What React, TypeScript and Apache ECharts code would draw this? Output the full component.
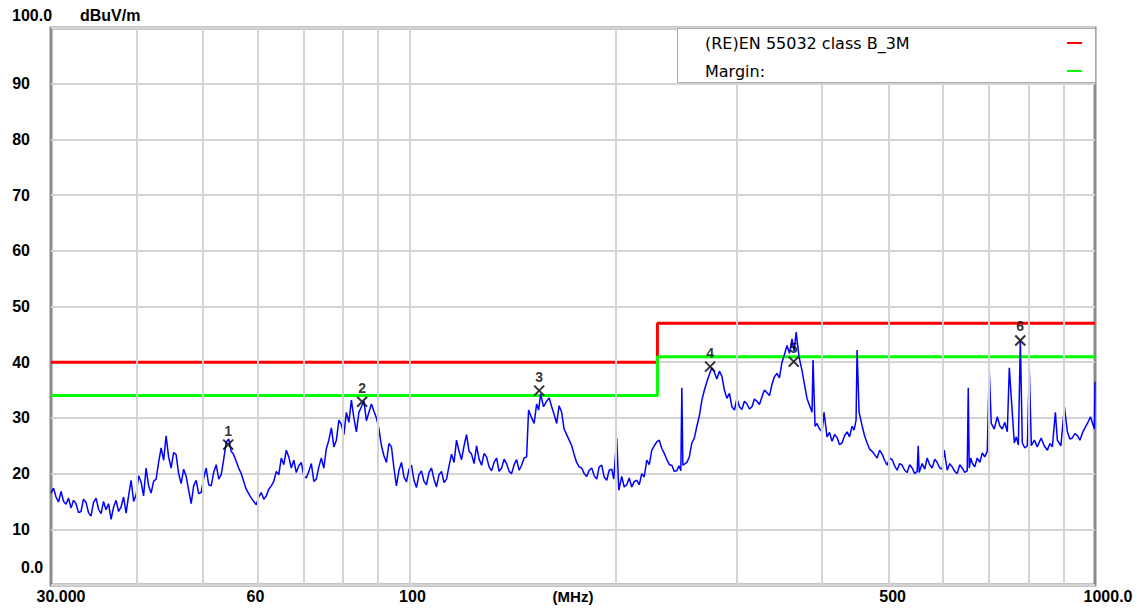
import React, { useEffect, useRef } from 'react';
import * as echarts from 'echarts';

// ---- data (frequency in MHz, level in dBuV/m) ----
const traceData: [number, number][] = [
  [30.0, 16.5], [30.25, 17.4], [30.51, 15.8], [30.77, 14.9], [31.03, 16.8], [31.3, 15.0], [31.56, 14.5], [31.82, 15.6],
  [32.09, 13.8], [32.36, 15.2], [32.63, 14.6], [32.9, 13.0], [33.18, 13.2], [33.46, 15.4], [33.75, 14.8], [34.03, 13.0],
  [34.32, 12.4], [34.6, 14.8], [34.9, 15.6], [35.2, 13.6], [35.49, 12.8], [35.79, 15.0], [36.09, 13.5], [36.4, 14.6],
  [36.71, 11.8], [37.02, 14.0], [37.33, 15.2], [37.64, 13.2], [37.96, 14.0], [38.28, 15.8], [38.61, 12.9], [38.93, 16.0],
  [39.26, 18.8], [39.6, 15.0], [39.93, 16.2], [40.26, 19.6], [40.6, 18.5], [40.94, 16.0], [41.29, 21.0], [41.64, 17.8],
  [41.99, 16.5], [42.34, 18.6], [42.7, 19.0], [43.06, 22.0], [43.43, 24.6], [43.8, 22.4], [44.16, 26.8], [44.53, 23.0],
  [44.91, 21.0], [45.29, 23.8], [45.67, 23.4], [46.06, 20.0], [46.45, 18.2], [46.84, 20.8], [47.24, 19.5], [47.64, 17.0],
  [48.04, 14.6], [48.44, 17.8], [48.85, 18.8], [49.26, 16.4], [49.68, 16.6], [50.1, 19.2], [50.52, 21.0], [50.95, 18.0],
  [51.38, 17.8], [51.81, 20.2], [52.25, 21.6], [52.7, 19.0], [53.14, 19.8], [53.59, 22.6], [54.04, 25.6], [54.5, 26.2],
  [54.95, 24.0], [55.41, 23.4], [55.88, 22.2], [56.35, 21.0], [56.83, 20.0], [57.31, 18.6], [57.79, 17.2], [58.28, 16.4],
  [58.78, 15.6], [59.28, 15.0], [59.78, 14.4], [60.28, 15.8], [60.79, 16.6], [61.3, 15.4], [61.82, 16.0], [62.34, 17.2],
  [62.87, 17.8], [63.4, 18.6], [63.94, 20.4], [64.48, 19.8], [65.02, 22.8], [65.57, 21.6], [66.12, 24.2], [66.68, 23.0],
  [67.24, 21.0], [67.81, 22.4], [68.38, 20.2], [68.96, 21.4], [69.54, 22.0], [70.13, 19.6], [70.72, 19.2], [71.32, 20.4],
  [71.92, 21.8], [72.53, 18.6], [73.14, 19.0], [73.76, 21.2], [74.38, 22.8], [75.0, 21.0], [75.64, 24.5], [76.28, 26.0],
  [76.93, 28.2], [77.58, 24.8], [78.23, 26.0], [78.9, 29.6], [79.56, 28.8], [80.23, 27.0], [80.91, 31.0], [81.59, 29.2],
  [82.28, 33.2], [82.97, 30.0], [83.67, 27.5], [84.38, 31.0], [85.1, 32.0], [85.82, 33.0], [86.54, 29.5], [87.27, 31.0],
  [88.01, 32.5], [88.75, 31.2], [89.5, 30.0], [90.26, 28.0], [91.02, 25.0], [91.79, 23.2], [92.56, 22.0], [93.34, 25.4],
  [94.13, 24.8], [94.92, 21.0], [95.72, 17.8], [96.53, 20.6], [97.35, 22.0], [98.17, 19.4], [99.0, 18.5], [99.84, 20.8],
  [100.68, 21.5], [101.53, 18.8], [102.38, 17.5], [103.25, 19.8], [104.12, 20.5], [105.0, 18.6], [105.88, 18.0], [106.78, 20.2],
  [107.68, 21.0], [108.59, 19.0], [109.51, 17.6], [110.44, 19.8], [111.37, 20.4], [112.31, 18.4], [113.26, 19.0], [114.22, 21.4],
  [115.18, 23.5], [116.15, 22.0], [117.13, 26.0], [118.12, 24.0], [119.12, 22.5], [120.13, 25.0], [121.14, 27.0], [122.16, 24.0],
  [123.19, 23.5], [124.23, 21.8], [125.28, 25.0], [126.34, 22.6], [127.41, 21.5], [128.49, 23.6], [129.57, 23.0], [130.66, 21.2],
  [131.76, 20.5], [132.87, 22.0], [133.99, 22.8], [135.13, 20.4], [136.27, 21.0], [137.42, 22.6], [138.58, 21.8], [139.75, 20.4],
  [140.93, 20.0], [142.12, 21.6], [143.32, 22.5], [144.53, 20.6], [145.75, 21.5], [146.98, 22.8], [148.22, 23.0], [149.2, 31.4],
  [150.74, 30.0], [152.0, 29.0], [153.29, 32.5], [154.3, 31.4], [155.37, 34.3], [156.9, 32.0], [158.53, 33.0], [159.9, 33.6],
  [161.23, 32.0], [162.6, 30.6], [163.96, 29.0], [165.3, 32.2], [166.74, 31.0], [168.1, 28.0], [169.57, 27.0], [171.0, 26.0],
  [172.44, 25.0], [173.9, 23.4], [175.36, 22.0], [176.8, 21.2], [178.34, 21.0], [179.8, 20.0], [181.36, 19.5], [182.9, 20.6],
  [184.44, 21.0], [186.0, 19.6], [187.57, 19.0], [189.1, 21.2], [190.75, 21.5], [192.3, 19.4], [193.98, 18.8], [195.6, 20.6],
  [197.28, 20.8], [198.6, 19.0], [200.62, 26.4], [202.0, 17.0], [204.02, 19.5], [205.7, 17.6], [207.47, 18.0], [209.2, 19.2],
  [211.0, 17.6], [212.8, 18.6], [214.57, 18.8], [216.4, 18.0], [218.22, 20.0], [220.0, 19.4], [221.92, 22.4], [223.8, 21.6],
  [225.69, 24.2], [227.6, 25.0], [229.51, 25.7], [231.4, 26.0], [233.41, 24.5], [235.4, 23.6], [237.36, 22.5], [239.4, 21.6],
  [241.39, 21.5], [243.4, 20.4], [245.48, 20.5], [247.2, 21.4], [248.8, 20.5], [249.65, 35.4], [250.5, 21.5], [253.88, 22.0],
  [256.0, 23.0], [258.19, 25.5], [260.4, 26.4], [262.56, 28.5], [264.8, 30.4], [267.02, 33.2], [269.3, 35.0], [271.54, 36.5],
  [273.8, 37.8], [276.15, 39.0], [278.5, 38.2], [280.83, 37.0], [283.2, 38.4], [285.6, 37.5], [288.0, 35.0], [290.44, 33.5],
  [292.9, 34.4], [295.37, 32.0], [297.9, 31.4], [300.37, 33.5], [302.9, 32.0], [305.47, 31.5], [308.0, 33.0], [310.64, 32.5],
  [313.3, 31.6], [315.92, 32.0], [318.6, 33.4], [321.27, 33.0], [324.0, 32.4], [326.73, 33.8], [329.5, 35.0], [332.26, 34.5],
  [335.1, 34.0], [337.9, 36.0], [340.7, 37.4], [343.62, 38.0], [346.5, 37.2], [349.46, 40.0], [352.4, 41.4], [355.37, 43.0],
  [358.4, 41.6], [361.42, 44.2], [364.0, 42.0], [366.5, 45.4], [370.0, 41.0], [373.78, 38.5], [380.1, 33.5], [386.56, 31.0],
  [387.9, 40.4], [390.5, 28.5], [393.1, 29.0], [396.4, 28.0], [399.79, 27.5], [402.5, 31.0], [406.56, 26.6], [410.0, 27.4],
  [413.46, 25.8], [417.0, 27.0], [420.46, 26.5], [424.0, 25.2], [427.61, 25.5], [431.2, 26.8], [434.85, 27.5], [438.5, 26.6],
  [442.23, 28.5], [445.2, 27.8], [448.2, 29.6], [449.72, 42.2], [452.8, 31.0], [457.36, 28.6], [461.2, 26.8], [465.1, 25.5],
  [469.0, 24.4], [473.01, 24.0], [477.0, 23.4], [481.02, 22.8], [485.1, 24.2], [489.19, 23.5], [493.3, 22.4], [497.48, 21.5],
  [501.7, 22.8], [505.92, 22.5], [510.2, 21.4], [514.49, 20.6], [518.8, 21.8], [523.23, 21.5], [527.6, 20.6], [532.09, 20.2],
  [536.6, 21.6], [541.13, 21.0], [545.7, 20.0], [550.3, 20.4], [552.2, 25.0], [554.0, 20.2], [559.64, 21.8], [564.4, 20.8],
  [569.12, 22.8], [573.9, 21.6], [578.78, 21.0], [583.7, 22.6], [588.58, 22.0], [593.6, 21.0], [598.58, 20.8], [602.6, 24.2],
  [608.72, 20.6], [613.9, 21.8], [619.06, 21.2], [624.3, 20.4], [629.55, 20.0], [634.9, 21.6], [640.24, 21.0], [645.6, 20.2],
  [651.07, 20.5], [653.3, 35.4], [655.5, 21.0], [658.8, 22.8], [662.14, 21.9], [667.7, 21.2], [673.35, 22.8], [679.0, 22.0],
  [684.79, 23.7], [690.5, 23.0], [696.38, 24.0], [701.0, 38.6], [705.8, 29.0], [713.0, 28.0], [720.21, 30.2], [726.3, 28.6],
  [732.45, 28.0], [738.6, 29.2], [744.85, 27.5], [749.9, 39.0], [755.0, 33.5], [762.6, 25.5], [767.8, 26.6], [773.0, 25.1],
  [778.2, 44.0], [783.42, 25.5], [790.0, 24.6], [796.68, 25.0], [802.0, 38.6], [807.5, 25.0], [815.6, 26.0], [823.93, 24.8],
  [829.2, 25.6], [834.6, 26.4], [843.3, 25.0], [852.12, 24.2], [859.3, 25.4], [866.6, 24.8], [875.4, 31.0], [881.27, 26.0],
  [891.8, 25.0], [902.4, 32.0], [911.42, 27.5], [919.1, 26.2], [926.9, 26.4], [934.7, 27.2], [942.6, 26.8], [950.6, 26.0],
  [958.61, 27.3], [966.7, 28.2], [974.85, 29.0], [984.8, 30.2], [998.0, 28.0], [1000, 36.5],
];

const limitFreq = [30, 230, 230, 1000];
const limitLevel = [40, 40, 47, 47];
const marginLevel = [34, 34, 41, 41];

const markerFreq = [54.4, 85.3, 154.6, 274.5, 363.5, 778.0];
const markerLevel = [25.2, 32.9, 34.9, 39.2, 40.1, 43.9];
const markerIds = ['1', '2', '3', '4', '5', '6'];

const xGridValues = [40, 50, 60, 70, 80, 90, 100, 200, 300, 400, 500, 600, 700, 800, 900];
const xTickValues = [30, 60, 100, 500, 1000];
const xTickLabels = ['30.000', '60', '100', '500', '1000.0'];
const yTickValues = [0, 10, 20, 30, 40, 50, 60, 70, 80, 90, 100];
const yTickLabels = ['0.0', '10', '20', '30', '40', '50', '60', '70', '80', '90', '100.0'];

const legendNames = ['(RE)EN 55032 class B_3M', 'Margin:'];
const xUnit = '(MHz)';
const yUnit = 'dBuV/m';

// ---- layout / style ----
const W = 1144;
const H = 610;
const G = { left: 51, top: 28, right: 49, bottom: 25 };
const xLabelShift = [10, -2, 3, 4, 13];
const AX_FONT = '"Liberation Sans", Arial, sans-serif';

export default function App() {
  const ref = useRef<HTMLDivElement>(null);

  useEffect(() => {
    document.body.style.margin = '0';
    if (!ref.current) return;
    const chart = echarts.init(ref.current, undefined, { renderer: 'svg' });

    const gridLineData: any[] = xGridValues.map((v) => ({ xAxis: v }));
    const tickLabelData: any[] = xTickValues.map((v, i) => ({
      xAxis: v,
      lineStyle: { color: 'rgba(0,0,0,0)', width: 0 },
      label: {
        show: true,
        formatter: xTickLabels[i],
        offset: [xLabelShift[i], 0],
        color: '#000',
      },
    }));

    const plotRight = W - G.right;
    const legendBox = { x: 677, y: G.top, w: plotRight - 677, h: 54 };

    const option: any = {
      animation: false,
      backgroundColor: '#ffffff',
      grid: {
        left: G.left,
        top: G.top,
        right: G.right,
        bottom: G.bottom,
        show: true,
        borderColor: '#8a8a8a',
        borderWidth: 3,
        backgroundColor: 'transparent',
      },
      xAxis: {
        type: 'log',
        logBase: 10,
        min: 30,
        max: 1000,
        axisLine: { show: false },
        axisTick: { show: false },
        axisLabel: { show: false },
        splitLine: { show: false },
        name: xUnit,
        nameLocation: 'middle',
        nameGap: 4,
        nameTextStyle: {
          fontFamily: AX_FONT,
          fontWeight: 'bold',
          fontSize: 15,
          color: '#000',
          verticalAlign: 'top',
        },
      },
      yAxis: {
        type: 'value',
        min: 0,
        max: 100,
        interval: 10,
        axisLine: { show: false },
        axisTick: { show: false },
        splitLine: { show: true, lineStyle: { color: '#d4d4d4', width: 2 } },
        axisLabel: {
          margin: 21,
          fontFamily: AX_FONT,
          fontWeight: 'bold',
          fontSize: 16,
          color: '#000',
          formatter: (v: number) => {
            if (v === 0 || v === 100) return '';
            const i = yTickValues.indexOf(v);
            return i >= 0 ? yTickLabels[i] : '';
          },
        },
      },
      series: [
        {
          name: 'grid',
          type: 'line',
          data: [],
          z: 1,
          silent: true,
          markLine: {
            silent: true,
            symbol: ['none', 'none'],
            animation: false,
            lineStyle: { type: 'solid', color: '#d4d4d4', width: 2 },
            label: {
              show: false,
              position: 'start',
              distance: 3,
              fontFamily: AX_FONT,
              fontWeight: 'bold',
              fontSize: 16,
              color: '#000',
            },
            data: [...gridLineData, ...tickLabelData],
          },
        },
        {
          name: legendNames[0],
          type: 'line',
          z: 3,
          showSymbol: false,
          silent: true,
          data: limitFreq.map((f, i) => [f, limitLevel[i]]),
          lineStyle: { color: '#ff0000', width: 3 },
        },
        {
          name: legendNames[1],
          type: 'line',
          z: 3,
          showSymbol: false,
          silent: true,
          data: limitFreq.map((f, i) => [f, marginLevel[i]]),
          lineStyle: { color: '#00ff00', width: 3 },
        },
        {
          name: 'trace',
          type: 'line',
          z: 4,
          showSymbol: false,
          silent: true,
          data: traceData,
          lineStyle: { color: '#0000ff', width: 1.5 },
        },
        {
          name: 'markers',
          type: 'scatter',
          z: 5,
          silent: true,
          symbol: 'path://M0 0L10 10M10 0L0 10',
          symbolSize: 10,
          itemStyle: { color: 'rgba(0,0,0,0)', borderColor: '#000', borderWidth: 2 },
          data: markerFreq.map((f, i) => [f, markerLevel[i]]),
          label: {
            show: true,
            position: 'top',
            distance: 1,
            fontFamily: AX_FONT,
            fontWeight: 'bold',
            fontSize: 14,
            color: '#000',
            formatter: (p: any) => markerIds[p.dataIndex],
          },
        },
      ],
      graphic: [
        {
          type: 'text',
          x: 12,
          y: 15,
          z: 100,
          style: { text: yTickLabels[yTickLabels.length - 1], font: `bold 16px ${AX_FONT}`, fill: '#000', verticalAlign: 'middle' },
        },
        {
          type: 'text',
          x: 80,
          y: 15,
          z: 100,
          style: { text: yUnit, font: `bold 16px ${AX_FONT}`, fill: '#000', verticalAlign: 'middle' },
        },
        {
          type: 'text',
          x: 21,
          y: 567,
          z: 100,
          style: { text: yTickLabels[0], font: `bold 16px ${AX_FONT}`, fill: '#000', verticalAlign: 'middle' },
        },
        {
          type: 'rect',
          z: 100,
          shape: { x: legendBox.x + 0.5, y: legendBox.y + 0.5, width: legendBox.w, height: legendBox.h },
          style: { fill: '#ffffff', stroke: '#a8a8a8', lineWidth: 1 },
        },
        {
          type: 'text',
          x: 705,
          y: 43,
          z: 101,
          style: { text: legendNames[0], font: '16px "DejaVu Sans", sans-serif', fill: '#000', verticalAlign: 'middle' },
        },
        {
          type: 'text',
          x: 705,
          y: 71,
          z: 101,
          style: { text: legendNames[1], font: '16px "DejaVu Sans", sans-serif', fill: '#000', verticalAlign: 'middle' },
        },
        {
          type: 'line',
          z: 101,
          shape: { x1: 1067, y1: 43, x2: 1082, y2: 43 },
          style: { stroke: '#ff0000', lineWidth: 2 },
        },
        {
          type: 'line',
          z: 101,
          shape: { x1: 1067, y1: 71, x2: 1082, y2: 71 },
          style: { stroke: '#00ff00', lineWidth: 2 },
        },
      ],
    };

    chart.setOption(option);
    return () => chart.dispose();
  }, []);

  return <div ref={ref} style={{ width: W, height: H }} />;
}
